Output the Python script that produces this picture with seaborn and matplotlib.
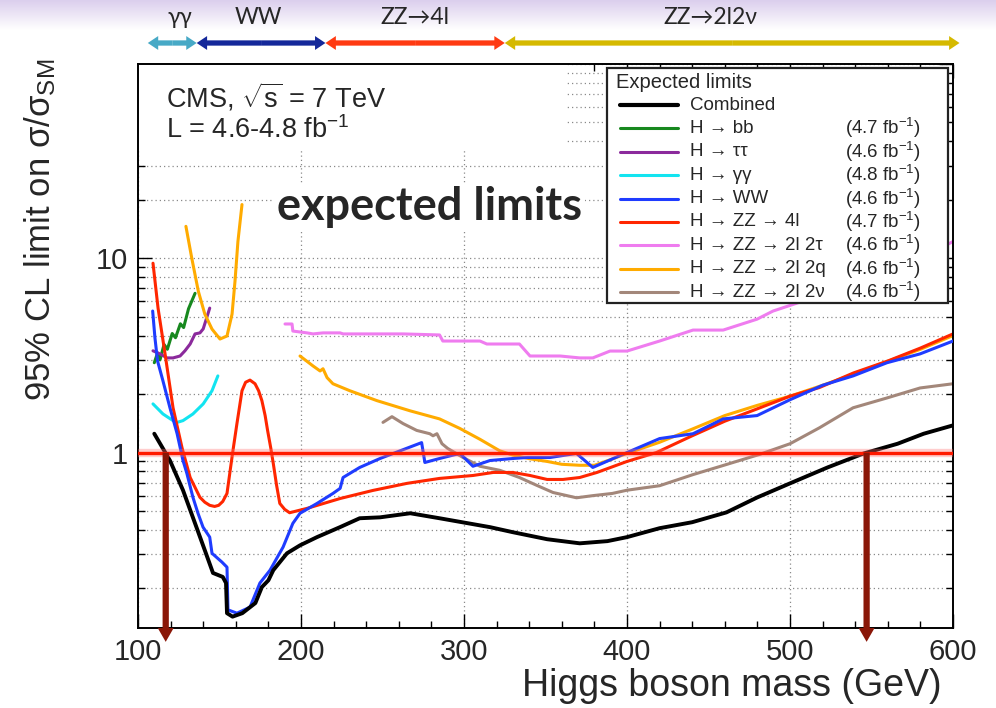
import numpy as np
import pandas as pd
import matplotlib
matplotlib.use("Agg")
import matplotlib.pyplot as plt
import matplotlib.transforms as mtransforms
from matplotlib.patches import Rectangle, FancyArrowPatch
from matplotlib.lines import Line2D
from matplotlib.ticker import FixedLocator, FixedFormatter, NullFormatter
import seaborn as sns

# ------------------------------------------------------------------ data
mass_comb = [110, 119.6, 127.6, 135, 141, 146, 152, 154, 154.6, 158, 164, 172, 176, 180,
             183, 191.4, 199.4, 209.8, 223.9, 236, 248.5, 267, 285, 316, 330, 351, 371, 388,
             400, 420, 440, 461, 480, 500, 523, 545, 566, 582, 600]
lim_comb = [1.25, 0.91, 0.64, 0.432, 0.314, 0.24, 0.229, 0.213, 0.149, 0.143, 0.149, 0.168,
            0.203, 0.22, 0.248, 0.303, 0.333, 0.367, 0.413, 0.459, 0.464, 0.487, 0.459, 0.413,
            0.389, 0.358, 0.341, 0.35, 0.367, 0.408, 0.438, 0.492, 0.588, 0.694, 0.838, 0.988,
            1.11, 1.25, 1.38]

mass_bb = [110, 112, 113.5, 116, 118, 121, 123, 126, 128, 131, 135]
lim_bb = [2.9, 3.25, 3.0, 3.6, 3.4, 4.1, 3.9, 4.6, 4.4, 5.5, 6.6]

mass_tt = [109.2, 113.5, 117.8, 121.5, 125.8, 128.8, 132, 135, 138, 140, 144]
lim_tt = [3.34, 3.22, 3.07, 3.07, 3.14, 3.34, 3.62, 4.08, 4.13, 4.33, 5.54]

mass_gg = [109.2, 115.3, 121.5, 124, 127.6, 133.7, 140, 145.4, 149]
lim_gg = [1.78, 1.58, 1.46, 1.43, 1.46, 1.58, 1.78, 2.08, 2.48]

mass_ww = [109, 110.4, 112, 115.3, 119.6, 124, 127.6, 130, 133.7, 136.8, 139.9, 144, 145.4,
           151.5, 154.6, 155.2, 160.7, 168.7, 174.8, 181, 189, 195, 199.4, 209.8, 219.6, 224,
           225.8, 236, 248.5, 260.7, 274, 276, 285, 297.5, 305.5, 316, 330, 338.7, 352.8, 369,
           379, 400, 420, 440.5, 459, 479.8, 500, 520, 538.7, 559.5, 579.8, 600]
lim_ww = [5.35, 3.89, 2.96, 2.34, 1.7, 1.25, 0.91, 0.78, 0.588, 0.487, 0.413, 0.367, 0.303,
          0.273, 0.257, 0.155, 0.149, 0.16, 0.213, 0.248, 0.326, 0.432, 0.487, 0.547, 0.616,
          0.654, 0.744, 0.838, 0.932, 1.02, 1.125, 0.889, 0.932, 0.99, 0.85, 0.91, 0.932,
          0.943, 0.943, 0.99, 0.838, 1.0, 1.18, 1.25, 1.49, 1.55, 1.87, 2.22, 2.48, 2.9,
          3.22, 3.75]

mass_4l = [109.2, 112.3, 116.6, 121.5, 127, 132, 138, 141, 144, 147, 149.5, 152, 154.6, 158,
           160.7, 163.8, 166, 168.7, 171.8, 174, 176, 178, 179.5, 181.5, 183, 185, 187, 190,
           193, 203.7, 224, 244, 265, 285, 305.5, 318, 330, 340.5, 351, 360.7, 371, 381.6,
           400, 418, 440, 460, 480, 500, 518, 539, 560, 580, 600]
lim_4l = [9.43, 5.54, 3.22, 1.7, 1.06, 0.744, 0.588, 0.555, 0.535, 0.528, 0.535, 0.56, 0.616,
          0.99, 1.41, 2.08, 2.3, 2.36, 2.26, 2.08, 1.85, 1.55, 1.3, 1.05, 0.878, 0.68, 0.547,
          0.51, 0.49, 0.516, 0.58, 0.638, 0.694, 0.736, 0.762, 0.79, 0.79, 0.762, 0.727,
          0.727, 0.744, 0.79, 0.9, 1.0, 1.22, 1.45, 1.68, 1.95, 2.16, 2.57, 2.96, 3.45, 4.08]

mass_2l2t = [190.2, 194.5, 195, 203.7, 207.4, 213.5, 224, 225.8, 262.6, 285, 287, 309.8, 314,
             334, 340.5, 359, 371, 379, 389.6, 400, 420, 440.5, 459, 479.8, 489.6, 520, 560,
             590, 600]
lim_2l2t = [4.59, 4.59, 4.22, 4.13, 4.08, 4.13, 4.13, 4.08, 4.08, 4.03, 3.75, 3.75, 3.62,
            3.62, 3.14, 3.14, 3.07, 3.07, 3.33, 3.33, 3.75, 4.27, 4.27, 4.86, 5.35, 6.5, 8.5,
            11.0, 12.2]

mass_2l2q_low = [129.4, 133, 137, 141, 145.4, 150.3, 154.6, 157.7, 159.5, 161.3, 163.8]
lim_2l2q_low = [14.6, 10.0, 6.77, 5.16, 4.32, 3.84, 3.98, 5.16, 7.6, 12.2, 18.9]
mass_2l2q_high = [199.4, 207.4, 211.7, 213.5, 216, 219.6, 230, 246.6, 266.9, 285, 297.5, 309.8,
                  322, 330, 340, 351, 360, 371, 380, 390, 400, 420, 440, 460, 480, 500, 520,
                  540, 560, 580, 600]
lim_2l2q_high = [3.14, 2.79, 2.63, 2.7, 2.43, 2.26, 2.08, 1.85, 1.64, 1.49, 1.33, 1.17, 1.02,
                 0.97, 0.93, 0.9, 0.87, 0.86, 0.86, 0.92, 0.99, 1.13, 1.32, 1.55, 1.75, 1.95,
                 2.22, 2.55, 2.95, 3.4, 4.0]

mass_2l2n = [250.3, 255.8, 262.6, 271, 279, 281, 283.4, 286.5, 290, 299.4, 309.8, 322, 334,
             344.8, 354.6, 369, 379, 391, 400, 420, 440.5, 461, 481.6, 500, 518, 538.7, 559.5,
             579.8, 600]
lim_2l2n = [1.43, 1.53, 1.41, 1.3, 1.25, 1.22, 1.25, 1.11, 1.05, 0.943, 0.85, 0.81, 0.744,
            0.677, 0.623, 0.585, 0.6, 0.616, 0.64, 0.675, 0.77, 0.868, 0.98, 1.11, 1.34, 1.7,
            1.91, 2.15, 2.26]

legend_labels = ["Combined", "H → bb", "H → ττ", "H → γγ", "H → WW", "H → ZZ → 4l",
                 "H → ZZ → 2l 2τ", "H → ZZ → 2l 2q", "H → ZZ → 2l 2ν"]
legend_lumi = ["", "4.7", "4.6", "4.8", "4.6", "4.7", "4.6", "4.6", "4.6"]

channel_names = ["γγ", "WW", "ZZ→4l", "ZZ→2l2ν"]
channel_ranges = [(106, 136), (136, 215), (215, 325), (325, 604)]
channel_label_mass = [125.8, 173.6, 270, 451]
exclusion_masses = [117, 547]

x_major = [100, 200, 300, 400, 500, 600]
y_major = [1, 10, 100]
y_major_labels = ["1", "10", ""]
y_minor = [0.2, 0.3, 0.4, 0.5, 0.6, 0.7, 0.8, 0.9, 2, 3, 4, 5, 6, 7, 8, 9,
           20, 30, 40, 50, 60, 70, 80, 90]

# ------------------------------------------------------------------ style
sns.set_theme(style="ticks")
plt.rcParams["font.family"] = ["Liberation Sans", "DejaVu Sans"]
plt.rcParams["mathtext.fontset"] = "custom"
plt.rcParams["mathtext.rm"] = "Liberation Sans"
plt.rcParams["mathtext.it"] = "Liberation Sans:italic"
plt.rcParams["mathtext.bf"] = "Liberation Sans:bold"
plt.rcParams["mathtext.default"] = "regular"

C_COMB = "#000000"
C_BB = "#17881e"
C_TT = "#8b2a9c"
C_GG = "#12e4f0"
C_WW = "#1f3cff"
C_4L = "#ff2600"
C_2T = "#ef7cef"
C_2Q = "#ffab00"
C_2N = "#a3877a"
series_colors = [C_COMB, C_BB, C_TT, C_GG, C_WW, C_4L, C_2T, C_2Q, C_2N]
channel_colors = ["#47a9c6", "#14289a", "#ff3a12", "#d5b900"]
ARROW_RED = "#8a1708"

W, H = 996, 708
AX_L, AX_R, AX_T, AX_B = 138, 953, 64, 628

def afx(px):
    return (px - AX_L) / (AX_R - AX_L)

def afy(py):
    return (AX_B - py) / (AX_B - AX_T)

fig = plt.figure(figsize=(W / 100, H / 100), dpi=100)
fig.patch.set_facecolor("white")

# lavender slide band at the top
bg = fig.add_axes([0, 1 - 30 / H, 1, 30 / H], zorder=-10)
grad = np.linspace(0, 1, 64)[:, None]
top_col = np.array([0.86, 0.81, 0.93])
img = top_col[None, None, :] * (1 - grad[..., None]) + np.ones(3)[None, None, :] * grad[..., None]
img = np.repeat(img, 4, axis=1)
bg.imshow(img, aspect="auto", extent=[0, 1, 0, 1], origin="upper")
bg.axis("off")

rect = [AX_L / W, 1 - AX_B / H, (AX_R - AX_L) / W, (AX_B - AX_T) / H]

# grid axes (behind)
axg = fig.add_axes(rect, zorder=0)
axg.set_yscale("log")
axg.set_xlim(100, 600)
axg.set_ylim(0.125, 100)
axg.set_facecolor("white")
axg.xaxis.set_major_locator(FixedLocator(x_major))
axg.yaxis.set_major_locator(FixedLocator(y_major))
axg.yaxis.set_minor_locator(FixedLocator(y_minor))
axg.grid(False)
grid_kw = dict(color="#8a8a8a", linestyle=(0, (1, 2.4)), linewidth=0.9)
axg.xaxis.grid(True, which="major", **grid_kw)
axg.yaxis.grid(True, which="both", **grid_kw)
axg.tick_params(which="both", length=0, labelbottom=False, labelleft=False)
for s in axg.spines.values():
    s.set_visible(False)

# main axes
ax = fig.add_axes(rect, zorder=1)
ax.set_facecolor("none")
ax.set_yscale("log")
ax.set_xlim(100, 600)
ax.set_ylim(0.125, 100)
ax.grid(False)

# white box behind the CMS label
ax.add_patch(Rectangle((0, afy(149)), afx(565), 1 - afy(149), transform=ax.transAxes,
                       facecolor="white", edgecolor="none", zorder=1))

curves = [
    (mass_bb, lim_bb, C_BB, 2.2, 2.2),
    (mass_tt, lim_tt, C_TT, 2.2, 2.2),
    (mass_gg, lim_gg, C_GG, 2.2, 2.2),
    (mass_2l2t, lim_2l2t, C_2T, 2.2, 2.1),
    (mass_2l2q_low, lim_2l2q_low, C_2Q, 2.2, 2.3),
    (mass_2l2q_high, lim_2l2q_high, C_2Q, 2.2, 2.3),
    (mass_2l2n, lim_2l2n, C_2N, 2.2, 2.4),
    (mass_4l, lim_4l, C_4L, 2.2, 2.5),
    (mass_ww, lim_ww, C_WW, 2.2, 2.6),
    (mass_comb, lim_comb, C_COMB, 2.8, 2.8),
]
for mx, ly, col, lw, z in curves:
    sns.lineplot(x=mx, y=ly, ax=ax, color=col, linewidth=lw, sort=False,
                 estimator=None, legend=False, zorder=z)

# SM reference line
ax.axhline(1.0, color="#ff7070", linewidth=6, alpha=0.35, zorder=3.9)
ax.axhline(1.0, color="#ff1a00", linewidth=2.4, zorder=4)

# exclusion arrows
y_tip = 10 ** (-(642 - 452) / 195)
for mx in exclusion_masses:
    ax.add_patch(FancyArrowPatch((mx, 1.0), (mx, y_tip), transform=ax.transData,
                                 arrowstyle="simple,head_length=1.0,head_width=1.15,tail_width=0.45",
                                 mutation_scale=10, color=ARROW_RED, lw=0,
                                 shrinkA=0, shrinkB=0, clip_on=False, zorder=6))

# ticks
ax.xaxis.set_major_locator(FixedLocator(x_major))
ax.xaxis.set_minor_locator(FixedLocator(list(range(100, 601, 20))))
ax.yaxis.set_major_locator(FixedLocator(y_major))
ax.yaxis.set_major_formatter(FixedFormatter(y_major_labels))
ax.yaxis.set_minor_locator(FixedLocator(y_minor))
ax.yaxis.set_minor_formatter(NullFormatter())
ax.tick_params(which="both", direction="in", top=True, right=True, width=1.0,
               color="black", labelsize=21, pad=7)
ax.tick_params(which="major", length=10)
ax.tick_params(which="minor", length=5)
for s in ax.spines.values():
    s.set_color("black")
    s.set_linewidth(1.4)

ax.set_xlabel("Higgs boson mass (GeV)", fontsize=27, ha="right", va="center")
ax.xaxis.set_label_coords(afx(942), afy(686))
ax.set_ylabel("95% CL limit on σ/σ$_{SM}$", fontsize=25, ha="center", va="center")
ax.yaxis.set_label_coords(afx(40), afy(230))

# CMS label
ax.text(afx(166), afy(97), r"CMS, $\sqrt{s}$ = 7 TeV", transform=ax.transAxes,
        fontsize=19.5, ha="left", va="center", zorder=8)
ax.text(afx(166), afy(130), "L = 4.6-4.8 fb$^{-1}$", transform=ax.transAxes,
        fontsize=19.5, ha="left", va="center", zorder=8)

# expected limits banner
ax.text(afx(277), afy(207), "expected limits", transform=ax.transAxes, fontsize=32.5,
        fontweight="bold", family=["Lato", "DejaVu Sans"], ha="left", va="center",
        zorder=8, bbox=dict(facecolor="white", edgecolor="none", pad=2))

# legend box
ax.add_patch(Rectangle((afx(607), afy(303)), afx(948) - afx(607), afy(68) - afy(303),
                       transform=ax.transAxes, facecolor="white", edgecolor="#222222",
                       linewidth=1.6, zorder=7))
ax.text(afx(616), afy(82), "Expected limits", transform=ax.transAxes, fontsize=14.5,
        ha="left", va="center", zorder=8)
for i, (lab, lumi, col) in enumerate(zip(legend_labels, legend_lumi, series_colors)):
    yy = afy(105 + 23.4 * i)
    ax.add_line(Line2D([afx(620), afx(678)], [yy, yy], transform=ax.transAxes, color=col,
                       linewidth=3.0 if i == 0 else 2.2, zorder=8))
    ax.text(afx(690), yy, lab, transform=ax.transAxes, fontsize=13.5, ha="left",
            va="center", zorder=8)
    if lumi:
        ax.text(afx(921), yy, "(%s fb$^{-1}$)" % lumi, transform=ax.transAxes, fontsize=13.5,
                ha="right", va="center", zorder=8)

# channel arrows on top of the frame
blend = mtransforms.blended_transform_factory(ax.transData, fig.transFigure)
y_arr = 1 - 43 / H
for (m0, m1), col in zip(channel_ranges, channel_colors):
    mid = 0.5 * (m0 + m1)
    for end in (m0, m1):
        ax.add_patch(FancyArrowPatch((mid, y_arr), (end, y_arr), transform=blend,
                                     arrowstyle="simple,head_length=0.75,head_width=1.0,tail_width=0.38",
                                     mutation_scale=10, color=col, lw=0, shrinkA=0,
                                     shrinkB=0, clip_on=False, zorder=9))
for name, mx in zip(channel_names, channel_label_mass):
    ax.text(mx, 1 - 18 / H, name, transform=blend, fontsize=16.5,
            family=["Lato", "DejaVu Sans"], ha="center", va="center", clip_on=False)

fig.savefig("out.png", dpi=100, facecolor="white")
